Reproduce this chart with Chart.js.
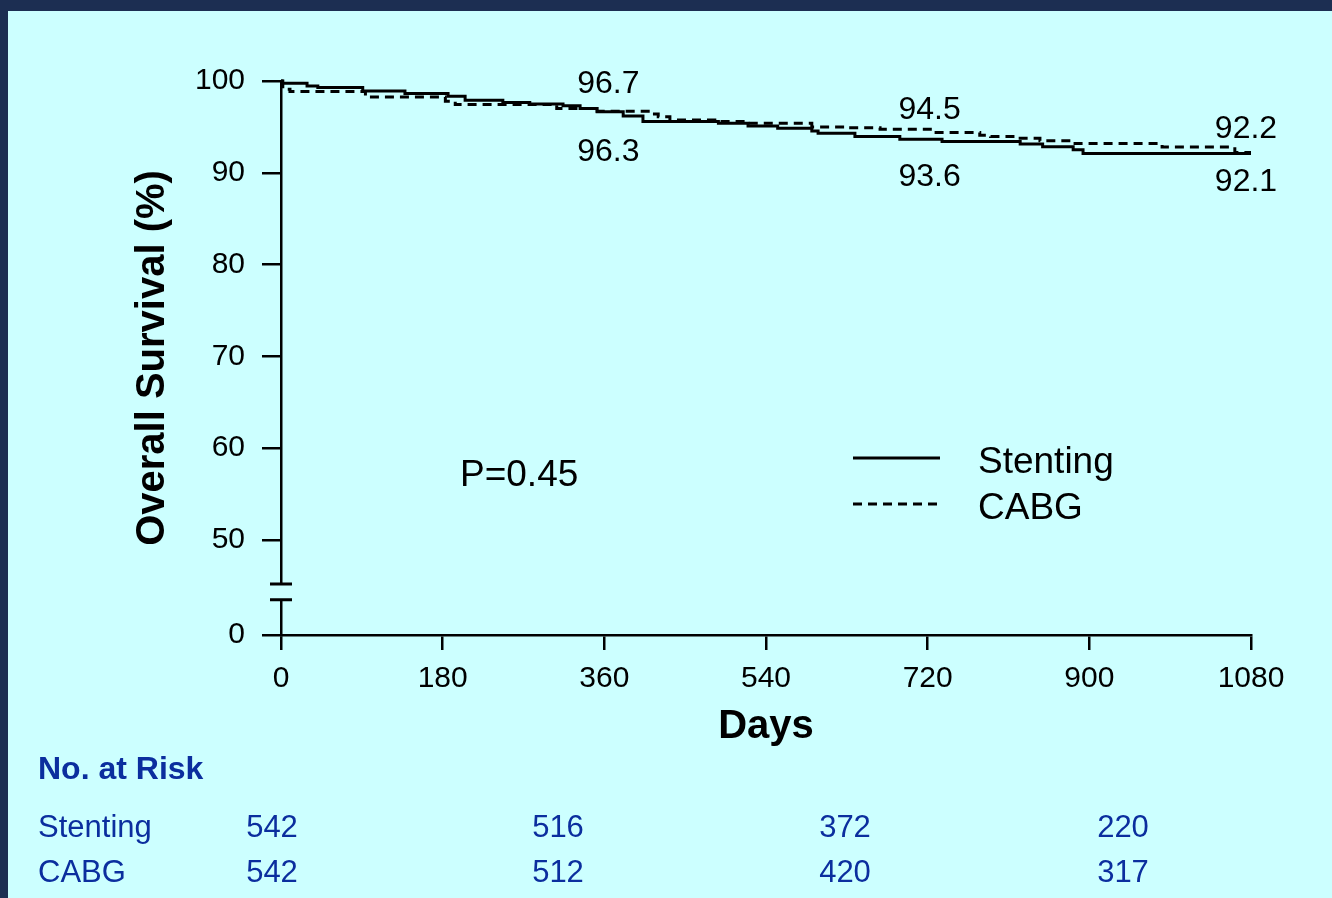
<!DOCTYPE html>
<html>
<head>
<meta charset="utf-8">
<script src="https://cdn.jsdelivr.net/npm/chart.js@4/dist/chart.umd.min.js"></script>
<style>
    body { margin: 0; background: #1c2e52; width: 1332px; height: 898px; overflow: hidden; }
    #frame { position: absolute; left: 8px; top: 11px; width: 1324px; height: 887px; background: #ccffff; }
</style>
</head>
<body>
<div id="frame"><canvas id="kmChart" width="1324" height="887"></canvas></div>
<script>
"use strict";

// Kaplan-Meier steps (day, survival %)
const stentDays = [0, 1, 29, 41, 91, 138, 186, 205, 247, 277, 314, 333, 352, 381, 403, 487, 520, 553, 591, 598, 639, 689, 736, 823, 848, 882, 893, 1080];
const stentSurv = [100, 99.75, 99.45, 99.3, 98.9, 98.65, 98.35, 97.9, 97.65, 97.5, 97.3, 97.0, 96.65, 96.2, 95.6, 95.4, 95.1, 94.85, 94.55, 94.3, 93.95, 93.65, 93.4, 93.15, 92.85, 92.5, 92.1, 92.1];

const cabgDays = [0, 2, 10, 94, 183, 194, 307, 352, 411, 420, 433, 483, 520, 591, 628, 667, 726, 778, 790, 823, 845, 882, 981, 1062, 1080];
const cabgSurv = [100, 99.1, 98.85, 98.25, 97.8, 97.45, 97.0, 96.7, 96.4, 96.1, 95.75, 95.6, 95.4, 95.0, 94.9, 94.75, 94.4, 94.1, 93.95, 93.75, 93.5, 93.2, 92.8, 92.2, 92.2];

// Axis ticks
const xTicks = [0, 180, 360, 540, 720, 900, 1080];
const yTicks = [50, 60, 70, 80, 90, 100];

// Labelled survival at time points
const noteDays = [360, 720, 1080];
const stentNotes = ['96.3', '93.6', '92.1'];
const cabgNotes = ['96.7', '94.5', '92.2'];

// Numbers at risk
const riskGroups = ['Stenting', 'CABG'];
const stentRisk = [542, 516, 372, 220];
const cabgRisk = [542, 512, 420, 317];

const pValue = 'P=0.45';

/** LAYOUT / STYLE */
const FONT = "'Liberation Sans', Arial, sans-serif";
const BG = '#ccffff';
const BLUE = '#0b2e9e';
const ZERO_POS = 39.65;      // where "0" sits on the broken axis
const BREAK_TOP = 45.2;
const BREAK_BOTTOM = 43.5;

const toPoints = (days, surv) => days.map((d, i) => ({ x: d, y: surv[i] }));

// Axis break, annotations, legend and risk table
const extrasPlugin = {
    id: 'extras',
    afterDraw(chart) {
        const ctx = chart.ctx;
        const xs = chart.scales.x;
        const ys = chart.scales.y;
        const x0 = xs.getPixelForValue(0);

        // Axis break
        const yA = ys.getPixelForValue(BREAK_TOP);
        const yB = ys.getPixelForValue(BREAK_BOTTOM);
        ctx.save();
        ctx.fillStyle = BG;
        ctx.fillRect(x0 - 4, yA, 8, yB - yA);
        ctx.strokeStyle = '#000';
        ctx.lineWidth = 3;
        ctx.beginPath();
        ctx.moveTo(x0 - 11, yA); ctx.lineTo(x0 + 11, yA);
        ctx.moveTo(x0 - 11, yB); ctx.lineTo(x0 + 11, yB);
        ctx.stroke();

        // Survival labels
        const upOffset = [-27, -21, -23];
        const downOffset = [37, 37, 29];
        const xOffset = [4, 2, -5];
        ctx.fillStyle = '#000';
        ctx.font = `32px ${ FONT }`;
        ctx.textAlign = 'center';
        ctx.textBaseline = 'middle';
        noteDays.forEach((d, i) => {
            const px = xs.getPixelForValue(d) + xOffset[i];
            ctx.fillText(cabgNotes[i], px, ys.getPixelForValue(parseFloat(cabgNotes[i])) + upOffset[i]);
            ctx.fillText(stentNotes[i], px, ys.getPixelForValue(parseFloat(stentNotes[i])) + downOffset[i]);
        });

        // P value
        ctx.font = `37px ${ FONT }`;
        ctx.textAlign = 'left';
        ctx.fillText(pValue, 452, 465);

        // Legend
        chart.data.datasets.forEach((ds, i) => {
            const ly = 447 + i * 46;
            ctx.strokeStyle = ds.borderColor;
            ctx.lineWidth = ds.borderWidth;
            ctx.setLineDash(ds.borderDash || []);
            ctx.beginPath();
            ctx.moveTo(845, ly); ctx.lineTo(932, ly);
            ctx.stroke();
            ctx.setLineDash([]);
            ctx.fillText(ds.label, 970, ly + 5);
        });

        // No. at Risk table
        ctx.fillStyle = BLUE;
        ctx.font = `bold 32px ${ FONT }`;
        ctx.fillText('No. at Risk', 30, 759);
        ctx.font = `31px ${ FONT }`;
        const colX = [264, 550, 837, 1115];
        [stentRisk, cabgRisk].forEach((row, r) => {
            const ry = 817 + r * 45;
            ctx.textAlign = 'left';
            ctx.fillText(riskGroups[r], 30, ry);
            ctx.textAlign = 'center';
            row.forEach((n, c) => ctx.fillText(String(n), colX[c], ry));
        });
        ctx.restore();
    }
};

Chart.defaults.color = '#000';
Chart.defaults.font.family = FONT;

const kmChart = new Chart(document.getElementById('kmChart').getContext('2d'), {
    type: 'line',
    data: {
        datasets: [{
            label: 'Stenting',
            data: toPoints(stentDays, stentSurv),
            borderColor: '#000',
            borderWidth: 3,
            stepped: true,
            pointRadius: 0,
            clip: false
        }, {
            label: 'CABG',
            data: toPoints(cabgDays, cabgSurv),
            borderColor: '#000',
            borderWidth: 3,
            borderDash: [9, 6],
            stepped: true,
            pointRadius: 0,
            clip: false
        }]
    },
    options: {
        responsive: false,
        animation: false,
        devicePixelRatio: 1,
        layout: { padding: { left: 121, top: 70, right: 81, bottom: 147 } },
        plugins: {
            legend: { display: false },
            tooltip: { enabled: false }
        },
        scales: {
            x: {
                type: 'linear',
                min: 0,
                max: 1080,
                afterBuildTicks: scale => { scale.ticks = xTicks.map(v => ({ value: v })); },
                afterFit: scale => { scale.height = 116; },
                ticks: { font: { size: 30 }, padding: 11, autoSkip: false, maxRotation: 0, callback: v => String(v) },
                grid: { drawOnChartArea: false, tickLength: 15, color: '#000', lineWidth: 2.5 },
                border: { display: true, color: '#000', width: 2.5 },
                title: { display: true, text: 'Days', font: { size: 40, weight: 'bold' }, padding: 0 }
            },
            y: {
                type: 'linear',
                min: ZERO_POS,
                max: 100,
                afterBuildTicks: scale => { scale.ticks = [ZERO_POS, ...yTicks].map(v => ({ value: v })); },
                afterFit: scale => { scale.width = 152; },
                ticks: {
                    font: { size: 30 },
                    padding: 17,
                    autoSkip: false,
                    callback: v => v === ZERO_POS ? '0' : String(v)
                },
                grid: { drawOnChartArea: false, tickLength: 19, color: '#000', lineWidth: 2.5 },
                border: { display: true, color: '#000', width: 2.5 },
                title: { display: true, text: 'Overall Survival (%)', font: { size: 40, weight: 'bold' }, padding: 0 }
            }
        }
    },
    plugins: [extrasPlugin]
});
</script>
</body>
</html>
